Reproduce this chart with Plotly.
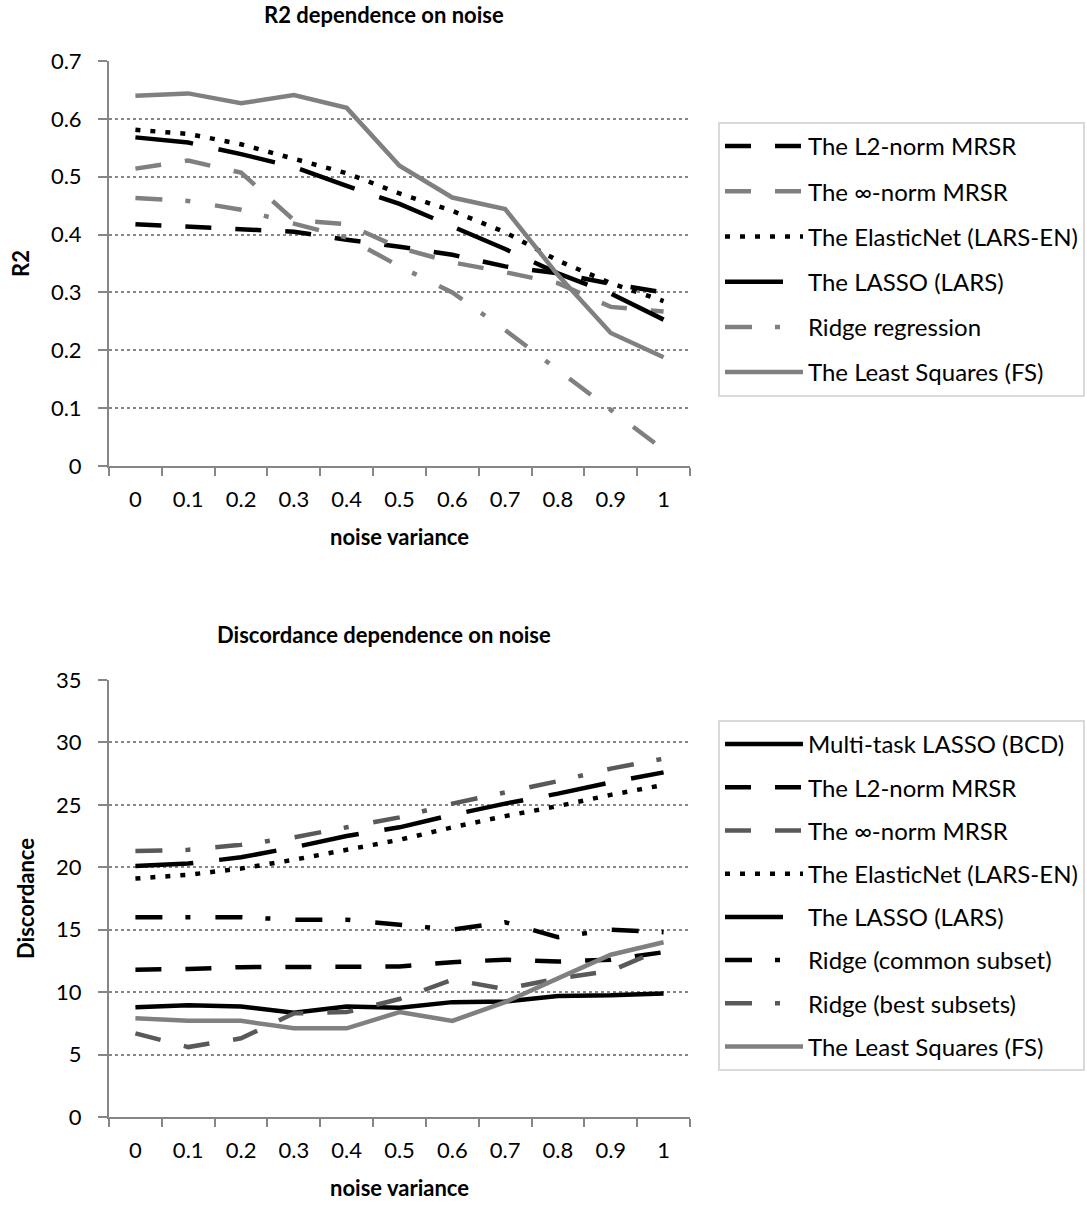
import plotly.graph_objects as go

W, H = 1087, 1207

noise = ["0", "0.1", "0.2", "0.3", "0.4", "0.5", "0.6", "0.7", "0.8", "0.9", "1"]

# R2 chart series
r2_l2_mrsr = [0.418, 0.414, 0.410, 0.405, 0.391, 0.379, 0.365, 0.345, 0.333, 0.315, 0.300]
r2_inf_mrsr = [0.514, 0.528, 0.507, 0.425, 0.418, 0.377, 0.352, 0.335, 0.316, 0.275, 0.267]
r2_elasticnet = [0.581, 0.574, 0.556, 0.532, 0.506, 0.471, 0.441, 0.404, 0.355, 0.316, 0.285]
r2_lasso = [0.568, 0.559, 0.539, 0.517, 0.484, 0.453, 0.414, 0.375, 0.333, 0.298, 0.253]
r2_ridge = [0.463, 0.458, 0.443, 0.420, 0.395, 0.345, 0.300, 0.235, 0.165, 0.097, 0.028]
r2_least_squares = [0.640, 0.644, 0.627, 0.641, 0.619, 0.519, 0.464, 0.444, 0.330, 0.230, 0.188]

# Discordance chart series
d_multitask = [8.8, 8.95, 8.85, 8.35, 8.85, 8.75, 9.2, 9.25, 9.7, 9.75, 9.9]
d_l2_mrsr = [11.8, 11.85, 12.0, 12.0, 12.0, 12.05, 12.4, 12.6, 12.45, 12.6, 13.2]
d_inf_mrsr = [6.7, 5.6, 6.3, 8.3, 8.4, 9.45, 11.0, 10.25, 11.1, 11.7, 13.5]
d_elasticnet = [19.1, 19.4, 19.9, 20.6, 21.4, 22.2, 23.2, 24.1, 24.9, 25.8, 26.6]
d_lasso = [20.1, 20.3, 20.8, 21.6, 22.5, 23.2, 24.2, 25.1, 25.9, 26.8, 27.6]
d_ridge_common = [16.0, 16.0, 16.0, 15.8, 15.8, 15.4, 15.0, 15.6, 14.4, 15.0, 14.8]
d_ridge_best = [21.3, 21.4, 21.8, 22.4, 23.2, 24.0, 25.1, 26.0, 26.9, 27.9, 28.7]
d_least_squares = [7.9, 7.7, 7.7, 7.1, 7.1, 8.4, 7.7, 9.2, 11.1, 13.0, 14.0]

BLACK = "#000000"
GRAY = "#808080"
DGRAY = "#595959"
AXIS = "#868686"
SHORT = "26px,24px"
LONG = "58px,26px"
DOT = "5px,10px"
DASHDOT = "27px,23px,5px,25px"
LW = 4.5
FONT = "Lato, Carlito, Calibri, 'Open Sans', sans-serif"
FS = 22
LFS = 24


def px(x):
    return x / W


def py(y):
    return 1 - y / H


fig = go.Figure()

top = [
    ("The L2-norm MRSR", r2_l2_mrsr, BLACK, SHORT),
    ("The \u221e-norm MRSR", r2_inf_mrsr, GRAY, SHORT),
    ("The ElasticNet (LARS-EN)", r2_elasticnet, BLACK, DOT),
    ("The LASSO (LARS)", r2_lasso, BLACK, LONG),
    ("Ridge regression", r2_ridge, GRAY, DASHDOT),
    ("The Least Squares (FS)", r2_least_squares, GRAY, "solid"),
]
for i, (name, vals, col, dash) in enumerate(top):
    fig.add_trace(go.Scatter(
        x=noise, y=vals, name=name, mode="lines",
        line=dict(color=col, width=LW, dash=dash),
        xaxis="x", yaxis="y", legend="legend", legendgroup="t%d" % i,
    ))

bottom = [
    ("Multi-task LASSO (BCD)", d_multitask, BLACK, "solid"),
    ("The L2-norm MRSR", d_l2_mrsr, BLACK, SHORT),
    ("The \u221e-norm MRSR", d_inf_mrsr, DGRAY, SHORT),
    ("The ElasticNet (LARS-EN)", d_elasticnet, BLACK, DOT),
    ("The LASSO (LARS)", d_lasso, BLACK, LONG),
    ("Ridge (common subset)", d_ridge_common, BLACK, DASHDOT),
    ("Ridge (best subsets)", d_ridge_best, DGRAY, DASHDOT),
    ("The Least Squares (FS)", d_least_squares, GRAY, "solid"),
]
for i, (name, vals, col, dash) in enumerate(bottom):
    fig.add_trace(go.Scatter(
        x=noise, y=vals, name=name, mode="lines",
        line=dict(color=col, width=LW, dash=dash),
        xaxis="x2", yaxis="y2", legend="legend2", legendgroup="b%d" % i,
    ))

xcommon = dict(
    type="category", categoryorder="array", categoryarray=noise,
    range=[-0.5, 10.5],
    showline=True, linecolor=AXIS, linewidth=2,
    ticks="outside", tickson="boundaries", ticklen=8, tickcolor=AXIS, tickwidth=2,
    ticklabelstandoff=13,
    showgrid=False, zeroline=False, automargin=False,
    tickfont=dict(family=FONT, size=FS, color="#000"),
    title=dict(text="<b>noise variance</b>", font=dict(family=FONT, size=FS, color="#000"), standoff=18),
)
ycommon = dict(
    showline=True, linecolor=AXIS, linewidth=2,
    ticks="outside", ticklen=9, tickcolor=AXIS, tickwidth=2,
    ticklabelstandoff=12,
    showgrid=True, gridcolor=AXIS, gridwidth=2, griddash="dot",
    zeroline=False, automargin=False,
    tickfont=dict(family=FONT, size=FS, color="#000"),
)

legend_common = dict(
    xanchor="left", yanchor="top",
    bordercolor="#D9D9D9", borderwidth=2, bgcolor="white",
    font=dict(family=FONT, size=LFS, color="#000"),
    itemwidth=78, traceorder="grouped",
)

fig.update_layout(
    width=W, height=H,
    margin=dict(l=0, r=0, t=0, b=0),
    paper_bgcolor="white", plot_bgcolor="white",
    font=dict(family=FONT, size=FS, color="#000"),
    xaxis=dict(domain=[px(109), px(690)], anchor="y", **xcommon),
    yaxis=dict(domain=[py(466), py(61)], anchor="x", range=[0, 0.7], dtick=0.1,
               title=dict(text="<b>R2</b>", font=dict(family=FONT, size=FS, color="#000"), standoff=15),
               **ycommon),
    xaxis2=dict(domain=[px(109), px(690)], anchor="y2", **xcommon),
    yaxis2=dict(domain=[py(1117), py(680)], anchor="x2", range=[0, 35], dtick=5,
                title=dict(text="<b>Discordance</b>", font=dict(family=FONT, size=FS, color="#000"), standoff=15),
                **ycommon),
    legend=dict(x=px(718), y=py(122), tracegroupgap=11, **legend_common),
    legend2=dict(x=px(718), y=py(720), tracegroupgap=9, **legend_common),
    annotations=[
        dict(text="<b>R2 dependence on noise</b>", x=px(384), y=py(14), xref="paper", yref="paper",
             showarrow=False, xanchor="center", yanchor="middle",
             font=dict(family=FONT, size=FS, color="#000")),
        dict(text="<b>Discordance dependence on noise</b>", x=px(384), y=py(634), xref="paper", yref="paper",
             showarrow=False, xanchor="center", yanchor="middle",
             font=dict(family=FONT, size=FS, color="#000")),
    ],
)

fig.write_html("out.html")
